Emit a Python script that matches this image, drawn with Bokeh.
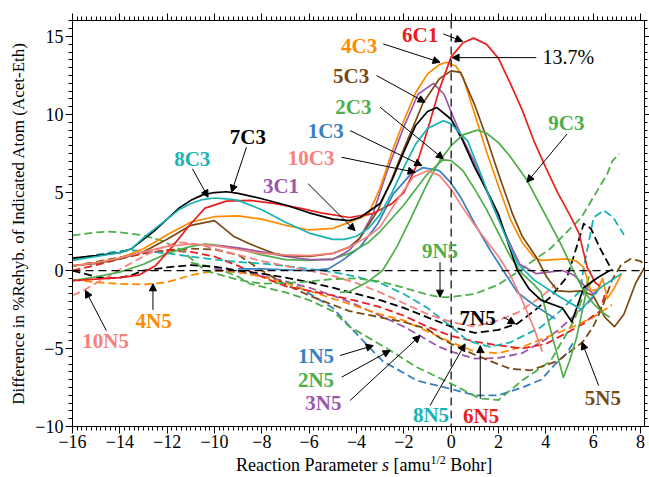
from bokeh.plotting import figure
from bokeh.layouts import column
from bokeh.models import Range1d, LinearAxis, FixedTicker, Label, Arrow, NormalHead, Span, Div
from bokeh.embed import file_html
from bokeh.resources import INLINE

# ---------------- solid curves: C atoms ----------------
s_1C3 = [-9, -8, -7, -6, -5.2, -4.6, -3.85, -3.1, -2.45, -1.75, -1.2, -0.5, 0, 0.4, 1, 1.65, 2.2, 2.8, 3.4, 4.0, 4.4]
d_1C3 = [0.1, 0.1, 0.05, 0.0, 0.1, 0.65, 1.5, 3.0, 4.9, 6.1, 6.6, 6.4, 5.6, 4.7, 3.0, 1.3, 0.0, -1.4, -2.1, -2.7, -3.1]

s_2C3 = [-16, -15, -14, -13, -12, -11, -10.4, -10, -9, -8, -7, -6, -5, -4.3, -3.5, -3, -2, -1, -0.35, 0, 0.5, 1, 1.5, 2, 2.5, 3, 3.5, 3.8, 4.2, 4.74, 5.0, 5.3, 5.75, 6.0]
d_2C3 = [-0.65, -0.4, -0.1, 0.4, 1.1, 1.55, 1.7, 1.65, 1.4, 1.0, 0.7, 0.65, 0.75, 1.1, 1.8, 2.5, 4.2, 6.2, 7.1, 7.05, 6.4, 5.2, 3.9, 2.4, 0.9, -0.2, -0.9, -1.4, -3.8, -6.85, -5.8, -4.3, -1.1, -0.6]

s_3C1 = [-9.8, -9, -8, -7, -6, -5, -4.3, -3.85, -3.3, -2.7, -2, -1.4, -0.75, -0.3, 0.1, 0.5, 0.95, 1.5, 1.95, 2.4, 2.9, 3.6, 4.7, 5.2, 5.7, 6.0, 6.2]
d_3C1 = [1.6, 1.45, 1.2, 0.9, 0.7, 0.7, 1.3, 2.1, 3.65, 6.4, 9.2, 11.3, 12.0, 11.3, 9.8, 8.4, 7.05, 5.1, 3.5, 2.0, 0.4, -0.2, 0.0, -0.3, -1.1, -1.5, -1.2]

s_4C3 = [-16, -15, -14, -13, -12, -11, -10, -9, -8, -7, -6, -5, -4.3, -3.5, -3, -2.5, -2, -1.5, -1, -0.5, -0.2, 0.2, 0.5, 1, 1.5, 2, 2.5, 3, 3.5, 3.8, 4.3, 4.9, 5.3, 5.6, 5.9, 6.2, 6.4, 6.6, 6.9, 7.2]
d_4C3 = [0.3, 0.5, 0.8, 1.4, 2.3, 3.1, 3.45, 3.5, 3.3, 2.9, 2.6, 2.7, 3.1, 3.6, 5.3, 7.6, 9.6, 11.4, 12.6, 13.2, 13.35, 13.1, 12.4, 10.0, 7.6, 5.4, 3.3, 1.8, 0.85, 0.65, 0.7, 0.75, 0.6, 0.2, -1.3, -1.2, -0.5, -1.8, -1.1, -0.2]

s_5C3 = [-16, -15, -14, -13, -12, -11, -10, -9.2, -8.5, -8, -7.5, -7, -6, -5, -4.3, -3.85, -3.1, -2.5, -2, -1.5, -1.2, -0.5, 0, 0.4, 1, 1.5, 2, 2.6, 3, 3.6, 4.05, 4.5, 5.0, 5.5, 6.0, 6.5, 6.9, 7.3, 7.8, 8.17]
d_5C3 = [0.3, 0.45, 0.75, 1.2, 2.0, 2.9, 3.2, 2.2, 1.7, 1.4, 1.1, 0.95, 0.9, 1.1, 1.5, 2.1, 3.85, 5.9, 7.8, 9.6, 10.7, 12.3, 12.8, 12.7, 10.6, 8.5, 6.2, 3.6, 2.2, 0.85, -0.45, -1.3, -1.35, -1.3, -1.6, -3.0, -3.6, -2.8, -0.8, 0.2]

s_6C1 = [-16, -15, -14, -13.2, -12.5, -11.8, -11, -10.4, -9.5, -8.5, -7.5, -6.4, -5.5, -4.3, -3.3, -2.5, -2, -1.5, -1, -0.5, 0, 0.5, 0.95, 1.5, 2, 2.5, 3, 3.5, 4, 4.5, 5, 5.4, 5.75, 6.1, 6.3]
d_6C1 = [-0.65, -0.55, -0.45, -0.3, 0.3, 1.5, 3.0, 4.0, 4.45, 4.5, 4.3, 4.0, 3.7, 3.4, 3.65, 4.3, 5.0, 6.6, 9.0, 11.6, 13.7, 14.6, 14.9, 14.5, 13.6, 12.0, 10.3, 8.3, 6.6, 5.0, 3.6, 2.4, 0.2, -0.8, -1.0]

s_7C3 = [-16, -15, -14, -13.5, -13, -12.5, -12, -11.5, -11, -10.5, -10, -9.5, -9, -8, -7, -6, -5, -4.3, -3.85, -3, -2.5, -2, -1.5, -1, -0.6, 0, 0.5, 1, 1.65, 2, 2.8, 3.3, 3.8, 4.7, 5.1, 5.6, 6.2, 6.7]
d_7C3 = [0.8, 0.95, 1.15, 1.4, 2.0, 2.6, 3.3, 4.0, 4.5, 4.85, 5.0, 5.05, 4.95, 4.6, 4.2, 3.7, 3.3, 3.2, 3.4, 4.3, 5.8, 7.6, 9.3, 10.2, 10.45, 9.7, 8.3, 6.6, 4.7, 3.6, 0.0, -1.2, -1.9, -2.4, -3.3, -1.1, -0.45, 0.0]

s_8C3 = [-16, -15, -14, -13.5, -13, -12.5, -12, -11.5, -11, -10.5, -10, -9.5, -9, -8, -7, -6, -5, -4.5, -4, -3.5, -3, -2.5, -2, -1.5, -1, -0.33, 0, 0.7, 1.2, 1.8, 2.3, 2.8, 3.5, 4.6, 5.5, 6.3, 7.2]
d_8C3 = [0.65, 0.9, 1.15, 1.4, 2.1, 2.7, 3.3, 3.9, 4.3, 4.55, 4.65, 4.6, 4.5, 3.9, 3.1, 2.4, 2.0, 2.0, 2.2, 2.7, 3.6, 5.0, 6.6, 8.1, 9.1, 9.6, 9.4, 8.3, 6.4, 4.0, 2.2, 0.45, -0.6, -1.7, -2.5, -1.1, -0.2]

s_9C3 = [-4.7, -4.3, -3.5, -2.9, -2.3, -1.75, -1, -0.5, 0, 0.5, 1.1, 1.5, 2, 2.5, 3.2, 3.9, 4.6, 5.1, 5.6, 6.0, 6.4, 6.7]
d_9C3 = [-1.4, -1.35, -0.7, 0.0, 1.5, 3.2, 5.6, 7.0, 8.0, 8.7, 9.0, 8.8, 8.2, 7.3, 5.8, 3.8, 1.8, 0.2, -1.3, -2.1, -2.7, -3.0]

s_10C3 = [-16, -15, -14, -13, -12, -11, -10, -9, -8, -7, -6, -5, -4.3, -3.5, -3, -2.2, -1.6, -1, -0.5, 0, 0.5, 1, 1.5, 2, 2.5, 3, 3.5, 3.85]
d_10C3 = [0.3, 0.5, 0.8, 1.2, 1.55, 1.7, 1.6, 1.35, 1.1, 1.0, 0.95, 1.1, 1.5, 2.2, 2.8, 4.7, 6.0, 6.4, 6.1, 5.2, 4.0, 2.9, 1.9, 0.9, -0.3, -1.9, -3.7, -5.2]

# ---------------- dashed curves: N5 atoms ----------------
s_1N5 = [-10, -9, -8.5, -7, -6.4, -5, -3.85, -2.9, -1.45, 0, 1, 2, 3, 3.8, 4.4, 4.9, 5.2]
d_1N5 = [0.0, -0.1, -0.2, -0.7, -1.1, -2.4, -4.3, -5.8, -7.05, -7.6, -8.0, -8.0, -7.5, -7.0, -6.0, -5.3, -4.5]

s_2N5 = [-11, -10, -9, -8.5, -7, -6, -5, -4.3, -3.5, -2.6, -1.45, 0, 1.2, 2, 3, 4.2, 5.2, 5.6, 5.9]
d_2N5 = [0.5, 0.2, -0.4, -0.85, -1.4, -1.9, -2.6, -3.6, -4.3, -5.1, -6.2, -7.25, -8.2, -8.3, -7.05, -5.8, -3.2, -1.5, 0.0]

s_3N5 = [-10, -9, -8, -7, -6, -5, -4, -3, -2, -1.3, -0.5, 0, 1, 2, 3, 4, 4.5, 5.2, 5.9, 6.2]
d_3N5 = [0.1, -0.1, -0.35, -0.7, -1.1, -1.6, -2.2, -2.9, -3.6, -4.2, -4.9, -5.2, -5.65, -5.6, -5.3, -4.4, -3.85, -2.9, -1.9, -1.3]

s_4N5 = [-16, -15, -14, -13, -12, -11, -10, -9, -8, -7, -6, -5, -4, -3, -2, -1, 0, 1, 2, 3, 4, 5, 6, 6.8]
d_4N5 = [-0.6, -0.75, -0.85, -0.9, -0.75, -0.3, 0.0, -0.1, -0.4, -0.8, -1.3, -1.8, -2.3, -2.8, -3.2, -3.9, -4.6, -5.2, -5.3, -4.9, -4.3, -3.7, -3.0, -2.2]

s_5N5 = [-16, -15, -14, -13, -12, -11, -10, -9, -8.5, -8, -7, -6, -5, -4.3, -3, -2, -1, -0.5, 0, 1, 1.65, 2.5, 3.35, 4.5, 5.55, 6.0, 6.4, 6.8, 7.2, 7.6, 8.0, 8.17]
d_5N5 = [0.3, 0.55, 0.85, 1.1, 1.3, 1.4, 1.35, 1.0, 0.5, 0.0, -0.9, -1.6, -2.2, -2.6, -3.0, -3.3, -3.75, -4.3, -4.7, -5.4, -5.8, -6.3, -6.4, -5.8, -4.6, -3.6, -2.3, -0.6, 0.4, 0.75, 0.6, 0.4]

s_6N5 = [-16, -15, -14, -13, -12, -11, -10, -9, -8, -7, -6, -5, -4, -3, -2, -1, 0, 1, 2, 3, 4, 4.5, 5, 5.6, 6.0, 6.3, 6.5]
d_6N5 = [0.0, 0.35, 0.75, 1.1, 1.3, 1.2, 0.9, 0.3, -0.4, -1.0, -1.3, -1.6, -1.95, -2.35, -2.9, -3.6, -4.2, -4.55, -4.8, -5.0, -4.7, -4.3, -3.9, -3.4, -2.9, -2.6, -1.5]

s_7N5 = [-16, -15.5, -15, -14.5, -14, -13.5, -13, -12, -11, -10, -9, -8, -7, -6, -5, -4, -3, -2, -1, 0, 1, 2, 2.8, 3.5, 4.2, 4.9, 5.2, 5.6, 5.9, 6.3, 6.8]
d_7N5 = [0.0, -0.2, -0.4, -0.5, -0.45, -0.3, 0.0, 0.2, 0.35, 0.25, 0.0, -0.2, -0.45, -0.75, -1.1, -1.5, -1.9, -2.4, -3.0, -3.6, -4.0, -3.8, -3.4, -2.6, -1.7, -0.4, 1.0, 3.0, 2.7, 1.4, 0.0]

s_8N5 = [-16, -15, -14, -13.5, -13, -12, -11, -10, -9, -8, -7, -6, -5, -4, -3, -2, -1, 0, 0.7, 1.65, 2.5, 3.77, 4.6, 5.46, 5.6, 6.02, 6.45, 6.85, 7.3]
d_8N5 = [0.7, 1.0, 1.25, 1.3, 1.25, 1.1, 0.9, 0.7, 0.55, 0.45, 0.3, 0.1, -0.1, -0.4, -0.8, -1.5, -2.4, -3.6, -4.5, -4.9, -4.6, -3.65, -2.6, -1.3, 0.2, 3.4, 3.85, 3.4, 2.3]

s_9N5 = [-16, -15, -14.5, -14, -13, -12.2, -11.4, -10.4, -9, -8, -7, -6, -5, -4, -3, -2, -1, -0.47, 0, 1, 2, 3, 3.34, 4.19, 5.5, 6.6, 6.8, 7.1]
d_9N5 = [2.25, 2.45, 2.5, 2.45, 2.25, 1.9, 1.3, 0.0, -0.6, -0.85, -0.8, -0.7, -0.55, -0.5, -0.7, -1.1, -1.55, -1.7, -1.7, -1.5, -0.9, 0.1, 0.5, 1.4, 3.4, 6.2, 7.0, 7.5]

s_10N5 = [-16, -15.5, -15, -14.5, -14, -13.5, -13, -12.5, -12, -11.5, -11, -10.5, -10, -9, -8, -7, -6, -5, -4, -3, -2, -1, 0, 1, 2, 2.8, 3.8, 4.4]
d_10N5 = [-1.6, -1.25, -0.8, -0.4, 0.05, 0.5, 0.9, 1.3, 1.6, 1.8, 1.75, 1.6, 1.4, 1.0, 0.6, 0.3, 0.0, -0.35, -0.8, -1.4, -2.1, -2.8, -3.3, -3.6, -3.2, -2.7, -1.7, -0.9]

x_ticks = [-16, -14, -12, -10, -8, -6, -4, -2, 0, 2, 4, 6, 8]
y_ticks = [-10, -5, 0, 5, 10, 15]

# ---------------- styling ----------------
BLUE, GREEN, PURPLE, ORANGE = "#3a7fc0", "#4dae4a", "#9a57ac", "#ff8a00"
BROWN, RED, BLACK, CYAN, PINK = "#7a4a14", "#e8201f", "#000000", "#18b3b3", "#f8807c"
SERIF = "Liberation Serif"

solid = [
    (s_1C3, d_1C3, BLUE), (s_2C3, d_2C3, GREEN), (s_3C1, d_3C1, PURPLE),
    (s_4C3, d_4C3, ORANGE), (s_5C3, d_5C3, BROWN), (s_6C1, d_6C1, RED),
    (s_7C3, d_7C3, BLACK), (s_8C3, d_8C3, CYAN), (s_9C3, d_9C3, GREEN),
    (s_10C3, d_10C3, PINK),
]
dashed = [
    (s_1N5, d_1N5, BLUE), (s_2N5, d_2N5, GREEN), (s_3N5, d_3N5, PURPLE),
    (s_4N5, d_4N5, ORANGE), (s_5N5, d_5N5, BROWN), (s_6N5, d_6N5, RED),
    (s_7N5, d_7N5, BLACK), (s_8N5, d_8N5, CYAN), (s_9N5, d_9N5, GREEN),
    (s_10N5, d_10N5, PINK),
]

p = figure(width=649, height=456, x_range=Range1d(-16, 8.17), y_range=Range1d(-10, 16.03),
           output_backend="svg", toolbar_location=None,
           min_border_left=72, min_border_right=5, min_border_top=20, min_border_bottom=30)
p.margin = 0
p.grid.visible = False
p.outline_line_color = "black"
p.outline_line_width = 1
p.background_fill_color = "white"
p.border_fill_color = "white"


def minus(v):
    return ("\u2212%d" % abs(v)) if v < 0 else "%d" % v


xt = FixedTicker(ticks=x_ticks, minor_ticks=[-16 + 0.2 * i for i in range(122)])
yt = FixedTicker(ticks=y_ticks, minor_ticks=[-10 + 0.5 * i for i in range(53)])


def style_axis(ax, ticker, labels, out_major=7, out_minor=4, standoff=2):
    ax.ticker = ticker
    ax.major_tick_in = 0
    ax.major_tick_out = out_major
    ax.minor_tick_in = 0
    ax.minor_tick_out = out_minor
    ax.axis_line_color = "black"
    ax.major_tick_line_color = "black"
    ax.minor_tick_line_color = "black"
    if labels:
        ax.major_label_text_font = SERIF
        ax.major_label_text_font_size = "18px"
        ax.major_label_text_color = "black"
        ax.major_label_standoff = standoff
        ax.major_label_overrides = {t: minus(t) for t in ticker.ticks}
    else:
        # tick marks only
        ax.major_label_text_color = None
        ax.major_label_text_font_size = "1px"
        ax.major_label_standoff = 0


style_axis(p.xaxis[0], xt, True, standoff=1)
style_axis(p.yaxis[0], yt, True)
p.yaxis[0].axis_label = "Difference in %Rehyb. of Indicated Atom (Acet-Eth)"
p.yaxis[0].axis_label_text_font = SERIF
p.yaxis[0].axis_label_text_font_style = "normal"
p.yaxis[0].axis_label_text_font_size = "17px"
p.yaxis[0].axis_label_text_color = "black"
p.yaxis[0].axis_label_standoff = 4

top_ax = LinearAxis()
style_axis(top_ax, xt, False)
p.add_layout(top_ax, "above")
right_ax = LinearAxis()
style_axis(right_ax, yt, False, out_major=5, out_minor=3)
p.add_layout(right_ax, "right")

# reference lines through the origin
p.add_layout(Span(location=0, dimension="width", line_color="black", line_dash="8 5", line_width=1.2))
p.add_layout(Span(location=0, dimension="height", line_color="black", line_dash="8 5", line_width=1.2))

for s, d, c in dashed:
    p.line(s, d, line_color=c, line_width=1.8, line_dash="8 4", line_join="round")
for s, d, c in solid:
    p.line(s, d, line_color=c, line_width=1.7, line_join="round")

# curve labels: (text, colour, x, y)
labels = [
    ("6C1", RED, -1.31, 15.13), ("4C3", ORANGE, -3.89, 14.4), ("5C3", BROWN, -4.23, 12.47),
    ("2C3", GREEN, -4.13, 10.47), ("1C3", BLUE, -5.3, 8.97), ("10C3", PINK, -5.92, 7.21),
    ("3C1", PURPLE, -7.19, 5.45), ("7C3", BLACK, -8.59, 8.59), ("8C3", CYAN, -10.94, 7.15),
    ("9C3", GREEN, 4.87, 9.46), ("9N5", GREEN, -0.47, 1.28), ("7N5", BLACK, 1.12, -3.04),
    ("1N5", BLUE, -5.71, -5.48), ("2N5", GREEN, -5.71, -7.02), ("3N5", PURPLE, -5.4, -8.49),
    ("8N5", CYAN, -0.85, -9.26), ("6N5", RED, 1.27, -9.33), ("5N5", BROWN, 6.41, -8.17),
    ("10N5", PINK, -14.6, -4.49), ("4N5", ORANGE, -12.57, -3.24),
]
for t, c, x, y in labels:
    p.add_layout(Label(x=x, y=y, text=t, text_color=c, text_font=SERIF, text_font_style="bold",
                       text_font_size="21px", text_align="center", text_baseline="middle"))

p.add_layout(Label(x=4.95, y=13.69, text="13.7%", text_color="black", text_font=SERIF,
                   text_font_size="20px", text_align="center", text_baseline="middle"))

# pointer arrows: (x_start, y_start, x_end, y_end)
arrows = [
    (-0.33, 15.17, 0.48, 14.7), (3.6, 13.65, 0.04, 13.65), (-2.87, 14.53, -0.47, 13.35),
    (-3.15, 12.5, -1.1, 10.79), (-3.0, 10.47, -0.33, 7.16), (-4.27, 8.97, -1.24, 6.73),
    (-4.63, 7.26, -1.52, 6.3), (-6.04, 5.56, -4.06, 2.56), (-8.65, 7.9, -9.28, 5.02),
    (-10.93, 6.52, -10.27, 4.7), (4.9, 8.76, 3.2, 5.66), (-0.47, 0.53, -0.47, -1.71),
    (2.21, -2.99, 2.71, -3.42), (-4.7, -5.45, -3.29, -4.81), (-4.63, -6.84, -2.58, -5.13),
    (-4.27, -8.33, -1.31, -4.17), (-0.89, -8.65, 0.59, -4.7), (1.23, -8.22, 1.23, -4.81),
    (6.23, -7.37, 5.53, -4.6), (-14.57, -3.85, -15.45, -1.28), (-12.6, -2.52, -12.6, -0.85),
]
for xs, ys, xe, ye in arrows:
    p.add_layout(Arrow(x_start=xs, y_start=ys, x_end=xe, y_end=ye, line_color="black", line_width=1,
                       end=NormalHead(size=7, fill_color="black", line_color="black", line_width=1)))

# x-axis title as HTML so the variable is italic and the exponent raised
xlabel = Div(
    text=("<div style=\"font-family:'Liberation Serif',serif;font-size:18px;line-height:19px;"
          "white-space:nowrap;padding-left:236px;color:#000;\">"
          "Reaction Parameter <i>s</i> [amu<sup style=\"font-size:12px;line-height:0;\">1/2</sup> Bohr]"
          "</div>"),
    width=649, height=21, margin=0,
)

layout = column(p, xlabel, spacing=0, margin=0)
open("out.html", "w").write(file_html(layout, INLINE))
